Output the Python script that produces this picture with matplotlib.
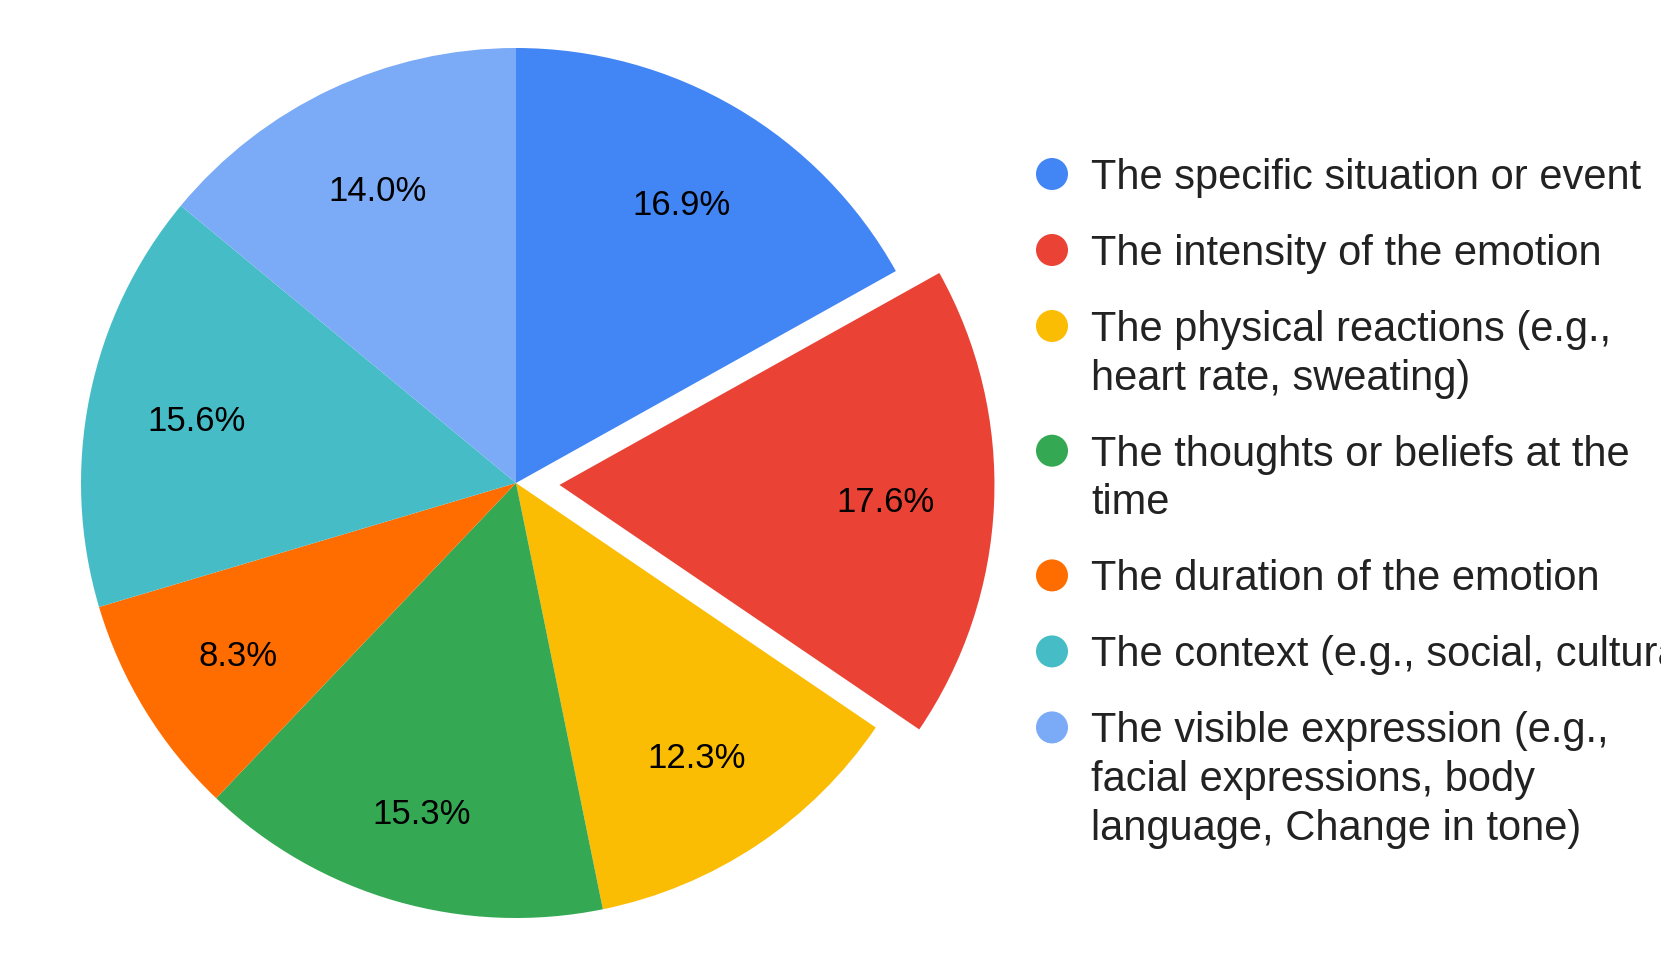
import matplotlib.pyplot as plt
from matplotlib.patches import Circle

plt.rcParams['font.family'] = ['Liberation Sans', 'DejaVu Sans']

# data (percent of responses)
categorias = [
    "The specific situation or event",
    "The intensity of the emotion",
    "The physical reactions (e.g.,\nheart rate, sweating)",
    "The thoughts or beliefs at the\ntime",
    "The duration of the emotion",
    "The context (e.g., social, cultural)",
    "The visible expression (e.g.,\nfacial expressions, body\nlanguage, Change in tone)",
]
valores = [16.9, 17.6, 12.3, 15.3, 8.3, 15.6, 14.0]
cores = ["#4285F4", "#EA4335", "#FBBC04", "#34A853", "#FF6D01", "#46BDC6", "#7BAAF7"]
destaque = [0, 0.1, 0, 0, 0, 0, 0]

W, H = 1661, 967
fig = plt.figure(figsize=(W / 100, H / 100), dpi=100)

# pie area: centre (516, 483) px, radius 435 px
cx, cy, r = 516, 483, 435
ax = fig.add_axes([(cx - r) / W, (H - cy - r) / H, 2 * r / W, 2 * r / H])
fatias, _, pcts = ax.pie(valores, colors=cores, explode=destaque, startangle=90,
                         counterclock=False, autopct='%.1f%%', pctdistance=0.75,
                         textprops={'fontsize': 25, 'color': 'black'},
                         wedgeprops={'linewidth': 0})
# small nudges so labels sit like the original
for i, t in enumerate(pcts):
    x, y = t.get_position()
    if i == 3:
        x, y = x * 1.045, y * 1.045
    t.set_position((x, y - 0.008))
ax.set_xlim(-1, 1)
ax.set_ylim(-1, 1)
ax.set_aspect('equal')
ax.axis('off')

# legend drawn by hand so the marker sits on the first line
lax = fig.add_axes([0, 0, 1, 1])
lax.set_xlim(0, W)
lax.set_ylim(H, 0)
lax.axis('off')
y = 174
for nome, cor in zip(categorias, cores):
    lax.add_patch(Circle((1052, y), 16, color=cor, lw=0))
    for i, linha in enumerate(nome.split('\n')):
        lax.text(1091, y + 15 + 48.7 * i, linha, fontsize=30, color='#222222',
                 va='baseline', ha='left', clip_on=False)
    y += 76 + 48.7 * nome.count('\n')

fig.savefig('out.png', dpi=100)
